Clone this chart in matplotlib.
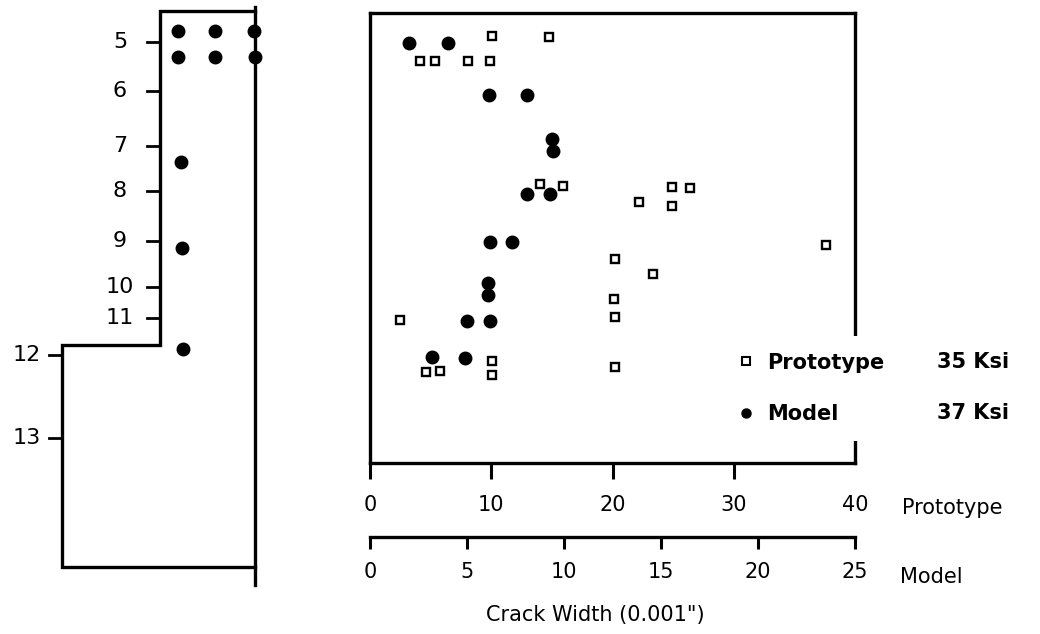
import matplotlib
matplotlib.use("Agg")
import matplotlib.pyplot as plt
from matplotlib.lines import Line2D

# vertical positions are depths below the top of the drawing (1 unit = 10 px)
floors = ["5", "6", "7", "8", "9", "10", "11", "12", "13"]
floor_y = [4.17, 9.07, 14.57, 19.07, 24.07, 28.73, 31.83, 35.5, 43.77]

# wall elevation: narrow upper part, wider lower part
wall_top, wall_step, wall_bottom = 1.1, 34.5, 56.7
narrow_x, wide_x, face_x = 16.0, 6.2, 25.5

# crack locations marked on the wall (model)
wall_dot_x = [17.8, 21.5, 25.4, 17.8, 21.5, 25.5, 18.1, 18.2, 18.3]
wall_dot_y = [3.07, 3.07, 3.07, 5.73, 5.73, 5.73, 16.23, 24.83, 34.9]

# crack widths, prototype (0.001 in, prototype scale)
proto_w = [10.1, 14.8, 4.1, 5.4, 8.1, 9.9, 14.0, 15.9, 22.2, 24.9, 26.4, 24.9,
           37.6, 20.2, 23.3, 20.1, 20.2, 2.5, 4.6, 5.8, 10.1, 10.1, 20.2]
proto_y = [3.57, 3.73, 6.07, 6.07, 6.07, 6.07, 18.43, 18.6, 20.17, 18.73, 18.83, 20.6,
           24.5, 25.93, 27.43, 29.9, 31.67, 32.0, 37.17, 37.07, 36.1, 37.5, 36.73]

# crack widths, model (0.001 in, model scale)
model_w = [2.0, 4.0, 6.15, 8.1, 9.4, 9.45, 8.1, 9.3, 6.2, 7.3, 6.1, 6.1,
           5.0, 6.2, 3.2, 4.9]
model_y = [4.27, 4.27, 9.5, 9.5, 13.93, 15.07, 19.4, 19.4, 24.2, 24.2, 28.33, 29.5,
           32.07, 32.07, 35.67, 35.83]

proto_ticks = [0, 10, 20, 30, 40]
model_ticks = [0, 5, 10, 15, 20, 25]
scale = 40 / 25  # prototype / model

W, H = 1040, 634
fig = plt.figure(figsize=(W / 100, H / 100), dpi=100)
plt.rcParams['font.family'] = ['DejaVu Sans']
lw = 2.4

# ---- wall elevation on the left ----
axl = fig.add_axes([0, 0, 300 / W, 1])
axl.set_xlim(0, 30)
axl.set_ylim(H / 10, 0)
axl.axis('off')
axl.plot([face_x, narrow_x, narrow_x, wide_x, wide_x, face_x],
         [wall_top, wall_top, wall_step, wall_step, wall_bottom, wall_bottom],
         color='k', lw=lw, solid_joinstyle='miter')
axl.plot([face_x, face_x], [wall_top - 0.4, wall_bottom + 1.8], color='k', lw=lw)
for lab, y in zip(floors, floor_y):
    x0 = narrow_x if y < wall_step else wide_x
    axl.plot([x0 - 1.3, x0], [y, y], color='k', lw=2)
    xt = 12.0 if y < wall_step else 2.7
    axl.text(xt, y, lab, ha='center', va='center', fontsize=16)
axl.plot(wall_dot_x, wall_dot_y, 'o', color='k', ms=9, clip_on=False, zorder=5)

# ---- crack width plot ----
x0, x1, ytop, ybot = 370, 855, 13, 462.7
ax = fig.add_axes([x0 / W, (H - ybot) / H, (x1 - x0) / W, (ybot - ytop) / H])
ax.set_xlim(0, 40)
ax.set_ylim(ybot / 10, ytop / 10)
for s in ax.spines.values():
    s.set_linewidth(lw)
ax.set_yticks([])
ax.set_xticks(proto_ticks)
ax.tick_params(axis='x', direction='out', length=11.5, width=2.2, pad=12, labelsize=15)
ax.xaxis.get_major_ticks()[-1].tick1line.set_visible(False)

ax.plot(proto_w, proto_y, 's', ms=6.2, mfc='white', mec='k', mew=1.7, clip_on=False)
ax.plot([w * scale for w in model_w], model_y, 'o', color='k', ms=9, clip_on=False)

secax = ax.secondary_xaxis(-74 / (ybot - ytop),
                           functions=(lambda p: p / scale, lambda m: m * scale))
secax.set_xticks(model_ticks)
secax.tick_params(direction='out', length=8.5, width=2.2, pad=10, labelsize=15)
secax.spines['bottom'].set_linewidth(lw)

ax.set_xlabel('Crack Width (0.001")', fontsize=15)
ax.xaxis.set_label_coords((595 - x0) / (x1 - x0), (ybot - 615) / (ybot - ytop))
ax.xaxis.label.set_va('center')

ax.text((902 - x0) / (x1 - x0), (ybot - 508) / (ybot - ytop), 'Prototype',
        transform=ax.transAxes, ha='left', va='center', fontsize=15)
ax.text((900 - x0) / (x1 - x0), (ybot - 577) / (ybot - ytop), 'Model',
        transform=ax.transAxes, ha='left', va='center', fontsize=15)

handles = [Line2D([], [], ls='none', marker='s', ms=5.5, mfc='white', mec='k', mew=1.5),
           Line2D([], [], ls='none', marker='o', ms=6.5, color='k')]
leg = ax.legend(handles, ['Prototype', 'Model'], loc='upper left',
                bbox_to_anchor=((721 - x0) / (x1 - x0), (ybot - 336) / (ybot - ytop)),
                frameon=True, fancybox=False, facecolor='white', edgecolor='none',
                framealpha=1, prop={'size': 15, 'weight': 'bold'},
                handlelength=0.8, handletextpad=0.6, labelspacing=1.5,
                borderpad=0.8, borderaxespad=0)
for txt, yp in [('35 Ksi', 362), ('37 Ksi', 413)]:
    ax.text((937 - x0) / (x1 - x0), (ybot - yp) / (ybot - ytop), txt,
            transform=ax.transAxes, ha='left', va='center', fontsize=15,
            fontweight='bold')

fig.savefig('out.png', dpi=100)
